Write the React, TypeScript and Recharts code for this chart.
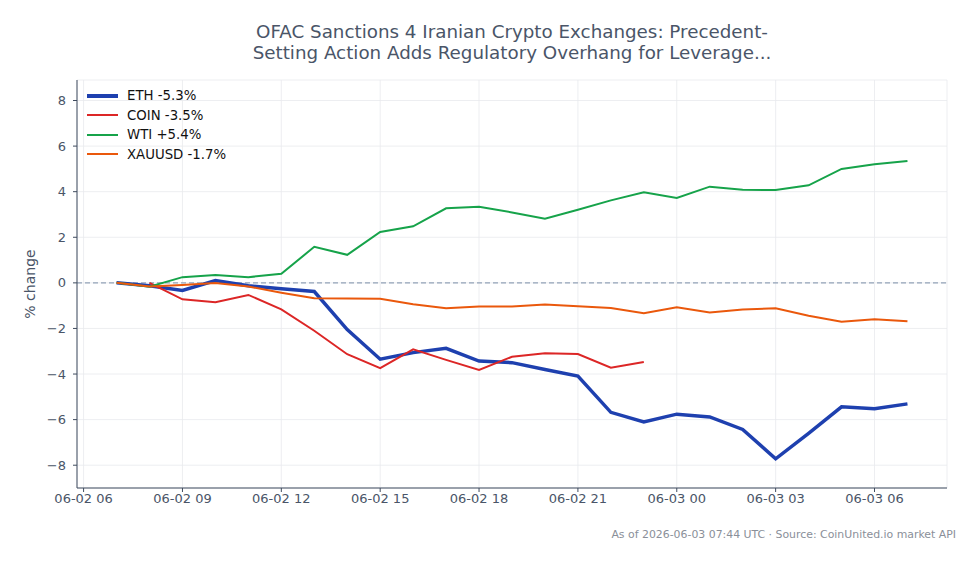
import { CartesianGrid, Line, LineChart, ReferenceLine, XAxis, YAxis } from "recharts";

// hours since 06-02 00:00 UTC
const HOURS = [7, 8, 9, 10, 11, 12, 13, 14, 15, 16, 17, 18, 19, 20, 21, 22, 23, 24, 25, 26, 27, 28, 29, 30, 31];
const ETH = [0, -0.13, -0.33, 0.1, -0.13, -0.26, -0.38, -2.05, -3.35, -3.06, -2.87, -3.43, -3.5, -3.8, -4.09, -5.68, -6.1, -5.76, -5.88, -6.43, -7.72, -6.6, -5.44, -5.52, -5.31];
const COIN = [null, 0, -0.72, -0.85, -0.53, -1.16, -2.1, -3.13, -3.74, -2.92, -3.38, -3.82, -3.24, -3.09, -3.12, -3.72, -3.47, null, null, null, null, null, null, null, null];
const WTI = [0, -0.17, 0.25, 0.35, 0.25, 0.4, 1.58, 1.23, 2.23, 2.48, 3.27, 3.34, 3.09, 2.81, 3.21, 3.62, 3.97, 3.72, 4.22, 4.09, 4.07, 4.28, 5.0, 5.2, 5.35];
const XAUUSD = [0, -0.16, -0.09, -0.01, -0.16, -0.43, -0.67, -0.69, -0.7, -0.94, -1.11, -1.04, -1.04, -0.95, -1.03, -1.1, -1.33, -1.07, -1.3, -1.17, -1.11, -1.44, -1.71, -1.6, -1.68];

const X_TICKS = [6, 9, 12, 15, 18, 21, 24, 27, 30];
const X_LABELS = ["06-02 06", "06-02 09", "06-02 12", "06-02 15", "06-02 18", "06-02 21", "06-03 00", "06-03 03", "06-03 06"];
const Y_TICKS = [-8, -6, -4, -2, 0, 2, 4, 6, 8];

const SERIES = [
  { key: "eth", name: "ETH -5.3%", color: "#1e40af", width: 3.5 },
  { key: "coin", name: "COIN -3.5%", color: "#dc2626", width: 2 },
  { key: "wti", name: "WTI +5.4%", color: "#16a34a", width: 2 },
  { key: "xau", name: "XAUUSD -1.7%", color: "#ea580c", width: 2 },
];

const FONT = "'DejaVu Sans', sans-serif";
const AXIS = "#3f4b5e";
const TICK = { fontSize: 13, fill: "#4a5568", fontFamily: FONT };

const data = HOURS.map((h, i) => ({ h, eth: ETH[i], coin: COIN[i], wti: WTI[i], xau: XAUUSD[i] }));

// drawn as an overlay so it doesn't eat into the plot area
function LegendBox() {
  return (
    <div style={{ position: "absolute", left: 87, top: 86, fontSize: 13.3, color: "#111" }}>
      {SERIES.map((s) => (
        <div key={s.key} style={{ display: "flex", alignItems: "center", height: 19.5 }}>
          <div style={{ width: 31, height: s.width, background: s.color, marginRight: 9 }} />
          <span>{s.name}</span>
        </div>
      ))}
    </div>
  );
}

export default function App() {
  return (
    <div style={{ position: "absolute", left: 0, top: 0, width: 979, height: 564, background: "#fff", fontFamily: FONT }}>
      <div style={{ position: "absolute", left: 77, width: 870, top: 21, textAlign: "center", fontSize: 18.3, lineHeight: "21px", color: "#4a5568" }}>
        OFAC Sanctions 4 Iranian Crypto Exchanges: Precedent-
        <br />
        Setting Action Adds Regulatory Overhang for Leverage...
      </div>
      <LineChart width={979} height={564} data={data} margin={{ top: 80, right: 32, bottom: 46, left: 0 }}>
        <CartesianGrid stroke="#e8eaee" strokeWidth={0.8} />
        <XAxis
          dataKey="h"
          type="number"
          domain={[5.8, 32.2]}
          ticks={X_TICKS}
          tickFormatter={(v) => X_LABELS[X_TICKS.indexOf(v)]}
          tick={TICK}
          height={30}
          tickSize={4}
          stroke={AXIS}
          allowDataOverflow
        />
        <YAxis
          type="number"
          domain={[-9, 8.9]}
          ticks={Y_TICKS}
          tick={{ ...TICK, dx: -5 }}
          tickFormatter={(v) => String(v).replace("-", "\u2212")}
          width={77}
          tickSize={4}
          stroke={AXIS}
          allowDataOverflow
          label={{ value: "% change", angle: -90, position: "insideLeft", offset: 30, style: { fontSize: 14, fill: "#4a5568", fontFamily: FONT, textAnchor: "middle" } }}
        />
        <ReferenceLine y={0} stroke="#94a3b8" strokeDasharray="5 3" strokeWidth={1.2} />
        {SERIES.map((s) => (
          <Line
            key={s.key}
            dataKey={s.key}
            name={s.name}
            stroke={s.color}
            strokeWidth={s.width}
            dot={false}
            type="linear"
            isAnimationActive={false}
          />
        ))}
      </LineChart>
      <LegendBox />
      <div style={{ position: "absolute", right: 23, top: 528, fontSize: 10.9, color: "#8a8f99" }}>
        As of 2026-06-03 07:44 UTC · Source: CoinUnited.io market API
      </div>
    </div>
  );
}
